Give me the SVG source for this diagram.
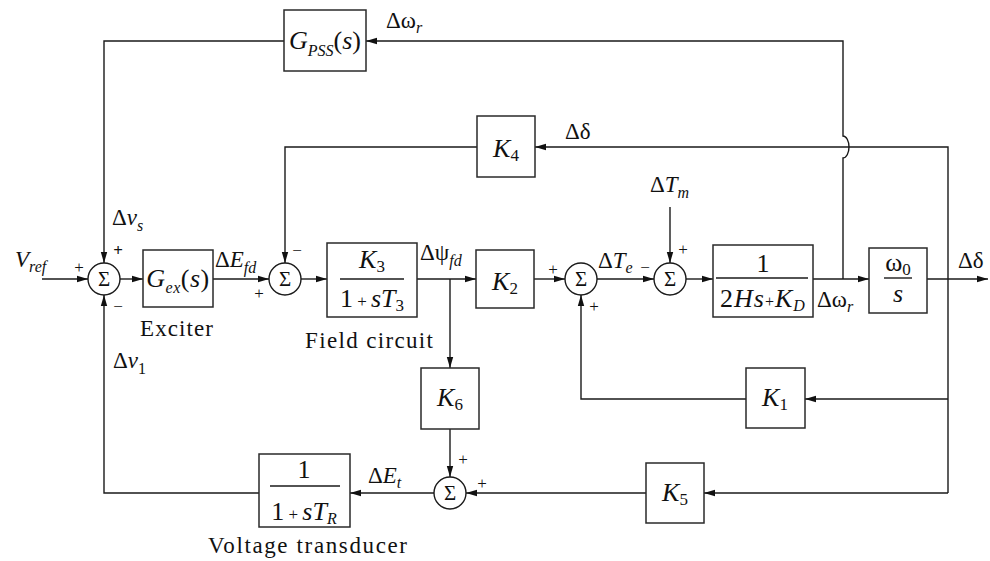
<svg xmlns="http://www.w3.org/2000/svg" width="990" height="561" viewBox="0 0 990 561">
<style>
.ln{stroke:#1a1a1a;stroke-width:1.4;fill:none}
.bx{fill:#fff;stroke:#2a2a2a;stroke-width:1.5}
.sm{fill:#fff;stroke:#1a1a1a;stroke-width:1.4}
.fl{stroke:#1a1a1a;stroke-width:1.4}
text{font-family:"Liberation Serif","Times New Roman",serif;fill:#111}
.i{font-style:italic}
.lb{font-size:23px}
.bt{font-size:26px}
.sub{font-size:16px;font-style:italic}
.sg{font-size:17px;text-anchor:middle}
.sig{font-size:21px;text-anchor:middle}
.c{text-anchor:middle}
</style>
<defs>
<marker id="ah" markerWidth="12" markerHeight="8" refX="11" refY="4" orient="auto" markerUnits="userSpaceOnUse">
<path d="M0,0.8 L11,4 L0,7.2 z" fill="#111"/>
</marker>
</defs>

<g id="connectors">
<path class="ln" d="M42,279 H88" marker-end="url(#ah)"/>
<path class="ln" d="M120,279 H143" marker-end="url(#ah)"/>
<path class="ln" d="M213,279 H269" marker-end="url(#ah)"/>
<path class="ln" d="M301,279 H327" marker-end="url(#ah)"/>
<path class="ln" d="M417,279 H476" marker-end="url(#ah)"/>
<path class="ln" d="M450,279 V368" marker-end="url(#ah)"/>
<path class="ln" d="M450,429 V477" marker-end="url(#ah)"/>
<path class="ln" d="M534,279 H565" marker-end="url(#ah)"/>
<path class="ln" d="M597,279 H654" marker-end="url(#ah)"/>
<path class="ln" d="M670,207 V263" marker-end="url(#ah)"/>
<path class="ln" d="M686,279 H713" marker-end="url(#ah)"/>
<path class="ln" d="M813,279 H869" marker-end="url(#ah)"/>
<path class="ln" d="M927,279 H988" marker-end="url(#ah)"/>
<path class="ln" d="M843,279 V158 A6 11 0 0 0 843,136 V41 H366" marker-end="url(#ah)"/>
<path class="ln" d="M284,41 H104 V263" marker-end="url(#ah)"/>
<path class="ln" d="M948,493 V147 H535" marker-end="url(#ah)"/>
<path class="ln" d="M948,399 H805" marker-end="url(#ah)"/>
<path class="ln" d="M948,493 H704" marker-end="url(#ah)"/>
<path class="ln" d="M477,147 H285 V263" marker-end="url(#ah)"/>
<path class="ln" d="M746,399 H581 V295" marker-end="url(#ah)"/>
<path class="ln" d="M646,493 H466" marker-end="url(#ah)"/>
<path class="ln" d="M434,493 H350" marker-end="url(#ah)"/>
<path class="ln" d="M259,493 H104 V295" marker-end="url(#ah)"/>
</g>

<g id="sum1"><circle class="sm" cx="104" cy="279" r="16"/><text class="sig" x="104" y="286">Σ</text></g>
<g id="sum2"><circle class="sm" cx="285" cy="279" r="16"/><text class="sig" x="285" y="286">Σ</text></g>
<g id="sum3"><circle class="sm" cx="581" cy="279" r="16"/><text class="sig" x="581" y="286">Σ</text></g>
<g id="sum4"><circle class="sm" cx="670" cy="279" r="16"/><text class="sig" x="670" y="286">Σ</text></g>
<g id="sum5"><circle class="sm" cx="450" cy="493" r="16"/><text class="sig" x="450" y="500">Σ</text></g>

<g id="gpss"><rect class="bx" x="284" y="10" width="82" height="61"/>
<text class="bt c" x="325" y="49" font-size="27"><tspan class="i">G</tspan><tspan class="sub" font-size="16" dy="7">PSS</tspan><tspan dy="-7">(</tspan><tspan class="i">s</tspan>)</text></g>

<g id="exciter"><rect class="bx" x="143" y="250" width="70" height="57"/>
<text class="bt c" x="178" y="287" letter-spacing="0.5"><tspan class="i">G</tspan><tspan class="sub" dy="6">ex</tspan><tspan dy="-6">(</tspan><tspan class="i">s</tspan>)</text>
<text class="lb" x="140" y="336" textLength="73">Exciter</text></g>

<g id="field"><rect class="bx" x="327" y="243" width="90" height="74"/>
<text class="bt c" x="372" y="268"><tspan class="i">K</tspan><tspan font-size="17" dy="4">3</tspan></text>
<line class="fl" x1="340" y1="279" x2="404" y2="279"/>
<text class="bt c" x="372" y="307">1<tspan font-size="17"> + </tspan><tspan class="i">sT</tspan><tspan font-size="17" dy="4">3</tspan></text>
<text class="lb" x="305" y="348" textLength="128">Field circuit</text></g>

<g id="k2"><rect class="bx" x="476" y="250" width="58" height="58"/>
<text class="bt c" x="505" y="290"><tspan class="i">K</tspan><tspan font-size="17" dy="4">2</tspan></text></g>

<g id="k4"><rect class="bx" x="477" y="116" width="58" height="61"/>
<text class="bt c" x="506" y="157"><tspan class="i">K</tspan><tspan font-size="17" dy="4">4</tspan></text></g>

<g id="rotor"><rect class="bx" x="713" y="245" width="100" height="72"/>
<text class="bt c" x="763" y="272">1</text>
<line class="fl" x1="716" y1="278" x2="808" y2="278"/>
<text class="bt c" x="763" y="307" letter-spacing="1">2<tspan class="i">Hs</tspan><tspan font-size="16">+</tspan><tspan class="i">K</tspan><tspan class="sub" dy="4">D</tspan></text></g>

<g id="integrator"><rect class="bx" x="869" y="248" width="58" height="65"/>
<text class="bt c" x="898" y="271">ω<tspan font-size="17" dy="4">0</tspan></text>
<line class="fl" x1="884" y1="278" x2="912" y2="278"/>
<text class="bt c i" x="898" y="302">s</text></g>

<g id="k6"><rect class="bx" x="421" y="368" width="58" height="61"/>
<text class="bt c" x="450" y="406"><tspan class="i">K</tspan><tspan font-size="17" dy="4">6</tspan></text></g>

<g id="k1"><rect class="bx" x="746" y="368" width="59" height="60"/>
<text class="bt c" x="775" y="406"><tspan class="i">K</tspan><tspan font-size="17" dy="4">1</tspan></text></g>

<g id="k5"><rect class="bx" x="646" y="463" width="58" height="60"/>
<text class="bt c" x="675" y="501"><tspan class="i">K</tspan><tspan font-size="17" dy="4">5</tspan></text></g>

<g id="transducer"><rect class="bx" x="259" y="454" width="91" height="73"/>
<text class="bt c" x="304" y="478">1</text>
<line class="fl" x1="270" y1="486" x2="340" y2="486"/>
<text class="bt c" x="304" y="520">1<tspan font-size="17"> + </tspan><tspan class="i">sT</tspan><tspan class="sub" dy="4">R</tspan></text>
<text class="lb" x="208" y="553" textLength="199">Voltage transducer</text></g>

<g id="labels">
<text class="lb" x="386" y="28">Δω<tspan class="sub" dy="5">r</tspan></text>
<text class="lb" x="15" y="267" font-size="26"><tspan class="i">V</tspan><tspan class="sub" dy="5">ref</tspan></text>
<text class="lb" x="112" y="225">Δ<tspan class="i">v</tspan><tspan class="sub" dy="6">s</tspan></text>
<text class="lb" x="215" y="267">Δ<tspan class="i">E</tspan><tspan class="sub" dy="6">fd</tspan></text>
<text class="lb" x="420" y="260">Δψ<tspan class="sub" dy="6">fd</tspan></text>
<text class="lb" x="598" y="268">Δ<tspan class="i">T</tspan><tspan class="sub" dy="5">e</tspan></text>
<text class="lb" x="650" y="192">Δ<tspan class="i">T</tspan><tspan class="sub" dy="6">m</tspan></text>
<text class="lb" x="817" y="307">Δω<tspan class="sub" dy="5">r</tspan></text>
<text class="lb" x="958" y="268">Δδ</text>
<text class="lb" x="565" y="139">Δδ</text>
<text class="lb" x="113" y="368">Δ<tspan class="i">v</tspan><tspan font-size="16" dy="6">1</tspan></text>
<text class="lb" x="368" y="483">Δ<tspan class="i">E</tspan><tspan class="sub" dy="5">t</tspan></text>
</g>

<g id="signs">
<text class="sg" x="79" y="273">+</text>
<text class="sg" x="118" y="256" font-weight="bold">+</text>
<text class="sg" x="118" y="312">−</text>
<text class="sg" x="259" y="299">+</text>
<text class="sg" x="297" y="256">−</text>
<text class="sg" x="553" y="275">+</text>
<text class="sg" x="594" y="312">+</text>
<text class="sg" x="645" y="273">−</text>
<text class="sg" x="683" y="255">+</text>
<text class="sg" x="463" y="465">+</text>
<text class="sg" x="482" y="489">+</text>
</g>
</svg>
